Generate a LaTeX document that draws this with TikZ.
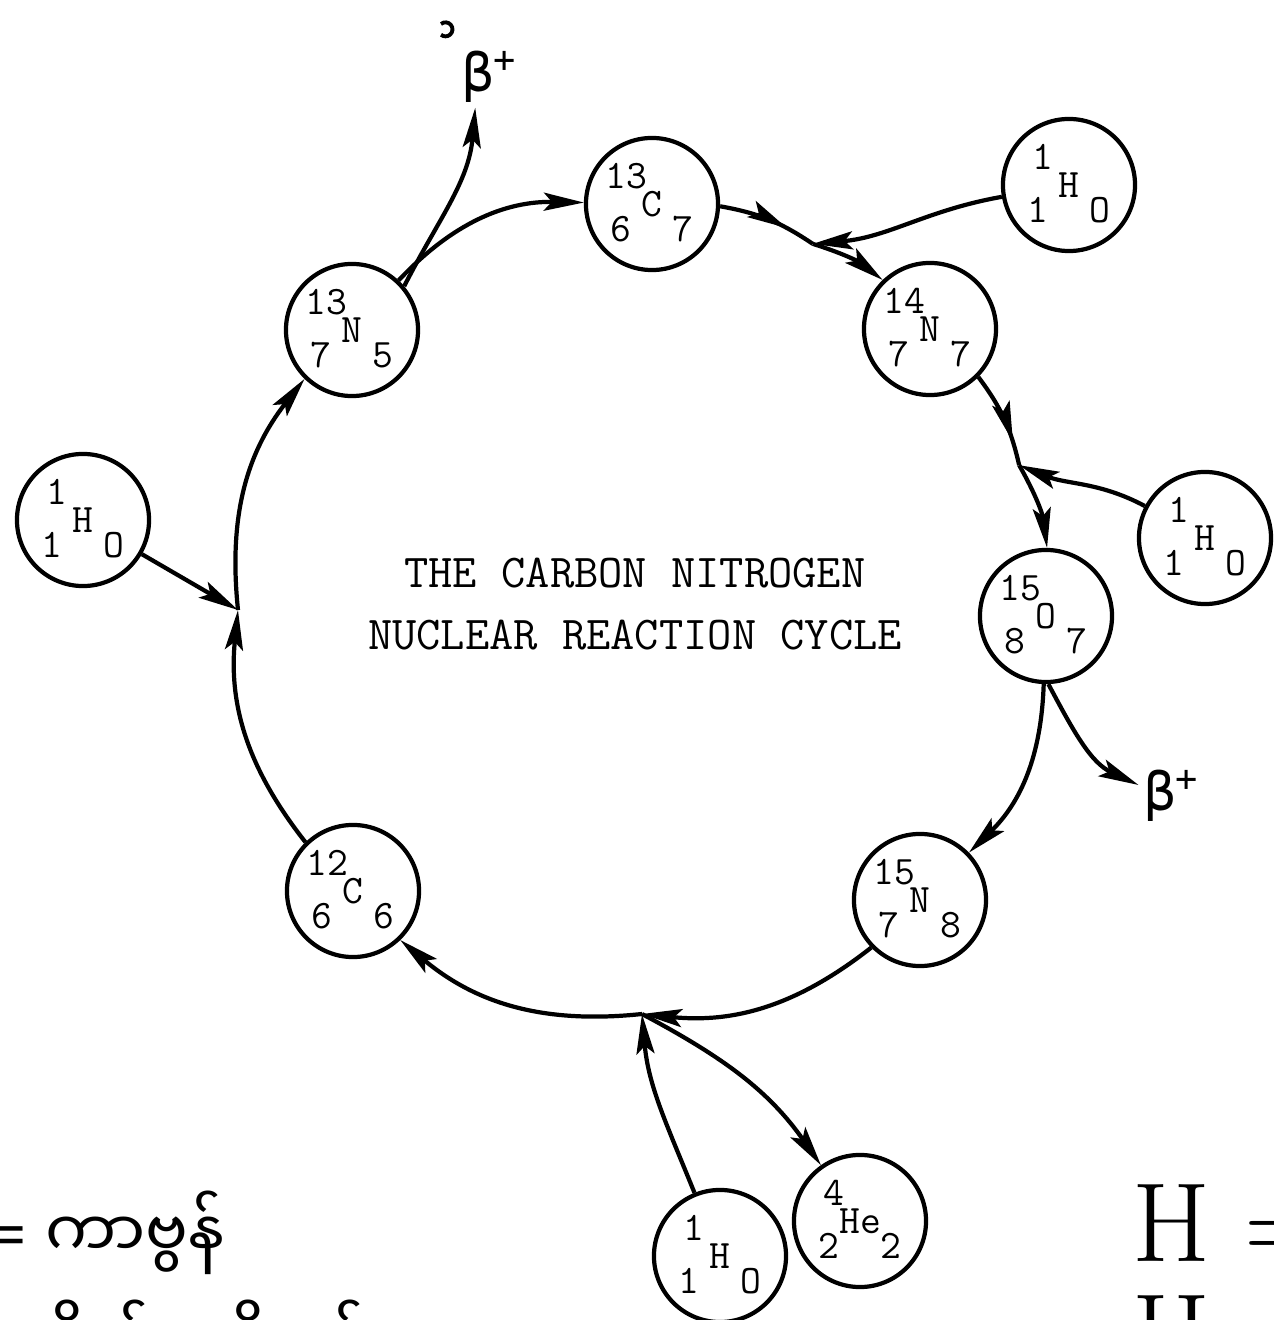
\documentclass[tikz,border=0pt]{standalone}
\usepackage{fontspec}
\newfontfamily\myanfont[Script=Myanmar]{Noto Sans Myanmar UI}
\newfontfamily\eqfont{Noto Sans}
\newfontfamily\betafont{DejaVu Sans Mono}
\usetikzlibrary{arrows.meta, calc, decorations.markings}

\begin{document}
\begin{tikzpicture}[
		x=0.01cm, y=0.01cm, line width=1.2pt,
		>={Stealth[length=4mm, width=1.8mm, inset=0.8mm]},
		% nucleus: #1 mass number, #2 charge, #3 right index, symbol is the node text
		nucl/.style n args={3}{
				circle, draw, minimum size=1.32cm, inner sep=0pt,
				font=\ttfamily\fontsize{11.5}{13}\selectfont,
				label={[nuclbl, shift={(-26,28)}]center:#1},
				label={[nuclbl, shift={(-31,-25)}]center:#2},
				label={[nuclbl, shift={(31,-25)}]center:#3}
			},
		nuclbl/.style={inner sep=0pt, font=\ttfamily\fontsize{11.5}{13}\selectfont},
		% positron label
		beta/.style={inner sep=1pt, font=\betafont\fontsize{15}{18}\selectfont},
		% key text at the bottom
		keytext/.style={anchor=base west, inner sep=0pt},
		% arrow tip in the middle of a path
		midarrow/.style={postaction={decorate},
				decoration={markings, mark=at position #1 with {\arrow{>}}}}
	]

	\useasboundingbox (0,0) rectangle (1274,1320);
	\clip (0,0) rectangle (1274,1320);

	% ==========================================
	% 1. NUCLEI ON THE CYCLE
	% ==========================================
	\node[nucl={13}{7}{5}] (n13) at (352,990) {N};
	\node[nucl={13}{6}{7}] (c13) at (652,1116) {C};
	\node[nucl={14}{7}{7}] (n14) at (930,991) {N};
	\node[nucl={15}{8}{7}] (o15) at (1046,704) {O};
	\node[nucl={15}{7}{8}] (n15) at (920,420) {N};
	\node[nucl={12}{6}{6}] (c12) at (353,429) {C};

	% ==========================================
	% 2. PROTONS AND HELIUM
	% ==========================================
	\node[nucl={1}{1}{O}] (h1) at (1069,1135) {H};
	\node[nucl={1}{1}{O}] (h2) at (1205,782) {H};
	\node[nucl={1}{1}{O}] (h3) at (83,800) {H};
	\node[nucl={1}{1}{O}] (h4) at (720,64) {H};
	\node[nucl={4}{2}{2}] (he) at (860,99) {He};

	% positrons
	\node[beta] (b1) at (478,1244) {β\rlap{\textsuperscript{+}}};
	\node[beta] (b2) at (1160,525) {β\rlap{\textsuperscript{+}}};
	\draw[line width=1.1pt] (441,1296) arc[start angle=130, end angle=-130, radius=7];

	% title
	\node[font=\ttfamily\fontsize{13.4}{17.6}\selectfont, align=center]
	(title) at (635,716) {THE CARBON NITROGEN\\NUCLEAR REACTION CYCLE};

	% ==========================================
	% 3. JUNCTIONS ON THE CYCLE
	% ==========================================
	\coordinate (ctr) at (642,710);
	\coordinate (jl) at ($(ctr)+(180:404)$);
	\coordinate (jt) at ($(ctr)+(65:404)$);
	\coordinate (jr) at ($(ctr)+(21:404)$);
	\coordinate (jb) at ($(ctr)+(-90:404)$);

	% ==========================================
	% 4. CYCLE ARROWS
	% ==========================================
	\draw[->] (c12) to[bend left=22] (jl);
	\draw[->] (jl) to[bend left=22] (n13);
	\draw[->] (n13) to[bend left=24] (c13);
	\draw[midarrow=0.7] (c13) to[bend left=12] (jt);
	\draw[->] (jt) to[bend left=10] (n14);
	\draw[midarrow=0.75] (n14) to[bend left=12] (jr);
	\draw[->] (jr) to[bend left=11] (o15);
	\draw[->] (o15) to[bend left=22] (n15);
	\draw[->] (n15) to[bend left=22] (jb);
	\draw[->] (jb) to[bend left=23] (c12);

	% ==========================================
	% 5. INPUTS AND OUTPUTS
	% ==========================================
	\draw[->] (h3) -- (jl);
	\draw[->] (h1) to[out=190, in=5] (jt);
	\draw[->] (h2) to[out=152, in=-22] (jr);
	\draw[->] (h4) to[out=112, in=-85] (jb);
	\draw[->] (jb) to[out=-28, in=125] (he);
	\draw[->] (n13.40) to[out=63, in=-95] (b1);
	\draw[->] (o15.-88) to[out=-62, in=155] (b2);

	% ==========================================
	% 6. KEY (cut by the page edge)
	% ==========================================
	\node[keytext, font=\fontsize{18}{22}\selectfont] (ckey) at (-12,62) {{\eqfont =} {\myanfont ကာဗွန်}};
	\node[keytext, font=\fontsize{18}{22}\selectfont] (nkey) at (-12,-46) {{\eqfont =} {\myanfont နိုက်ထရိုဂျင်}};
	\node[keytext, font=\fontsize{32}{38}\selectfont] (hkey) at (1130,58) {H =};
	\node[keytext, font=\fontsize{32}{38}\selectfont] (hkey2) at (1130,-52) {H};

\end{tikzpicture}
\end{document}
